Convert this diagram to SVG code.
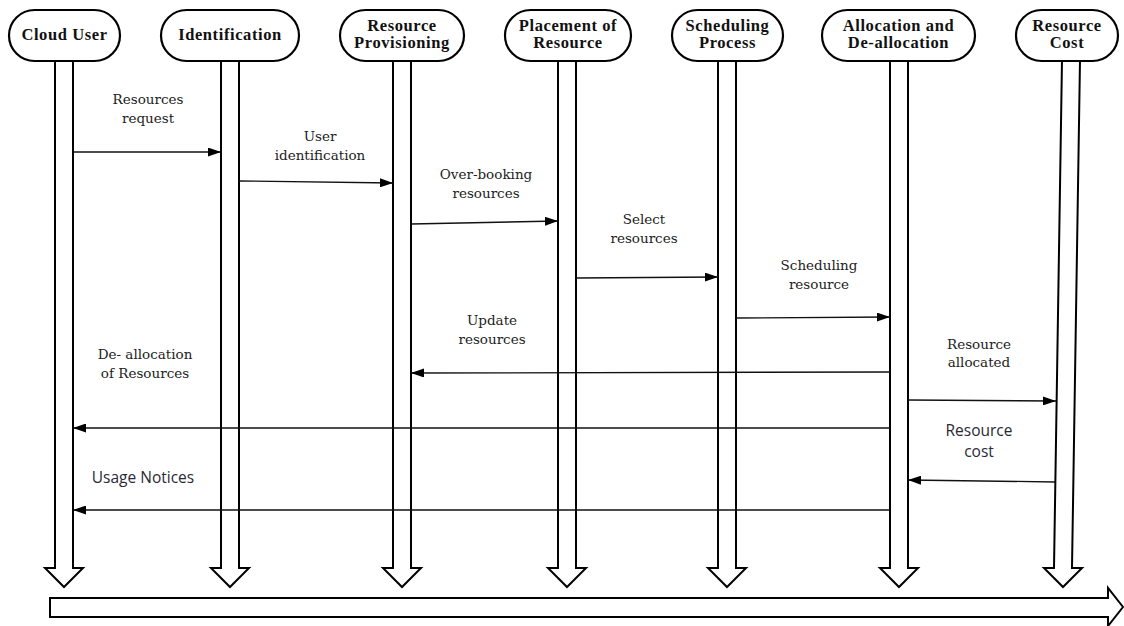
<svg xmlns="http://www.w3.org/2000/svg" width="1124" height="626" viewBox="0 0 1124 626">
<style>
.node rect{fill:#fff;stroke:#000;stroke-width:2.2}
.node text{font-family:"Liberation Serif",serif;font-weight:bold;font-size:16.5px;letter-spacing:0.6px;fill:#111;text-anchor:middle}
.life{fill:#fff;stroke:#000;stroke-width:2}
.msg line{stroke:#111;stroke-width:1.3;marker-end:url(#ah)}
.lbl{font-family:"DejaVu Serif","Liberation Serif",serif;font-size:13.5px;fill:#222;text-anchor:middle}
.lbs{font-family:"Open Sans",sans-serif;font-size:15.5px;fill:#2a2a35;text-anchor:middle}
</style>
<defs>
<marker id="ah" markerUnits="userSpaceOnUse" markerWidth="13" markerHeight="9" refX="13" refY="4.5" orient="auto">
<path d="M0,0 L13,4.5 L0,9 Z" fill="#000"/>
</marker>
</defs>
<rect width="1124" height="626" fill="#fff"/>
<g id="lifelines">
<path class="life" d="M55,60 L55,568 L45,568 L64,587 L83,568 L73,568 L73,60"/>
<path class="life" d="M221,60 L221,568 L211,568 L230,587 L249,568 L239,568 L239,60"/>
<path class="life" d="M393,60 L393,568 L383,568 L402,587 L421,568 L411,568 L411,60"/>
<path class="life" d="M558,60 L558,568 L548,568 L567,587 L586,568 L576,568 L576,60"/>
<path class="life" d="M718,60 L718,568 L708,568 L727,587 L746,568 L736,568 L736,60"/>
<path class="life" d="M890,60 L890,568 L880,568 L899,587 L918,568 L908,568 L908,60"/>
<path class="life" d="M1062,60 L1054,568 L1044,568 L1063,587 L1082,568 L1072,568 L1080,60"/>
</g>
<g id="timeline">
<path class="life" d="M50,598 L1108,598 L1108,588 L1123,607 L1108,626 L1108,617 L50,617 Z"/>
</g>
<g id="n-cloud-user" class="node"><rect x="9" y="10" width="111" height="51" rx="25.5"/><text x="64.5" y="40">Cloud User</text></g>
<g id="n-identification" class="node"><rect x="161" y="10" width="138" height="51" rx="25.5"/><text x="230" y="40">Identification</text></g>
<g id="n-provisioning" class="node"><rect x="340" y="10" width="124" height="51" rx="25.5"/><text x="402" y="31">Resource</text><text x="402" y="48">Provisioning</text></g>
<g id="n-placement" class="node"><rect x="505" y="10" width="126" height="51" rx="25.5"/><text x="568" y="31">Placement of</text><text x="568" y="48">Resource</text></g>
<g id="n-scheduling" class="node"><rect x="672" y="10" width="111" height="51" rx="25.5"/><text x="727.5" y="31">Scheduling</text><text x="727.5" y="48">Process</text></g>
<g id="n-allocation" class="node"><rect x="822" y="10" width="153" height="51" rx="25.5"/><text x="898.5" y="31">Allocation and</text><text x="898.5" y="48">De-allocation</text></g>
<g id="n-cost" class="node"><rect x="1016" y="10" width="102" height="51" rx="25.5"/><text x="1067" y="31">Resource</text><text x="1067" y="48">Cost</text></g>
<g id="connectors" class="msg">
<line x1="73" y1="152" x2="221" y2="152"/>
<line x1="239" y1="181" x2="393" y2="183"/>
<line x1="411" y1="224" x2="558" y2="221"/>
<line x1="576" y1="278" x2="718" y2="277"/>
<line x1="736" y1="318" x2="890" y2="317"/>
<line x1="890" y1="372" x2="411" y2="373"/>
<line x1="890" y1="428" x2="73" y2="428"/>
<line x1="908" y1="400" x2="1056" y2="401"/>
<line x1="1055" y1="482" x2="908" y2="480"/>
<line x1="890" y1="510" x2="73" y2="510"/>
</g>
<g id="labels">
<text class="lbl" x="148" y="104">Resources</text>
<text class="lbl" x="148" y="123">request</text>
<text class="lbl" x="320" y="141">User</text>
<text class="lbl" x="320" y="160">identification</text>
<text class="lbl" x="486" y="179">Over-booking</text>
<text class="lbl" x="486" y="198">resources</text>
<text class="lbl" x="644" y="224">Select</text>
<text class="lbl" x="644" y="243">resources</text>
<text class="lbl" x="819" y="270">Scheduling</text>
<text class="lbl" x="819" y="289">resource</text>
<text class="lbl" x="492" y="325">Update</text>
<text class="lbl" x="492" y="344">resources</text>
<text class="lbl" x="145" y="359">De- allocation</text>
<text class="lbl" x="145" y="378">of Resources</text>
<text class="lbl" x="979" y="349">Resource</text>
<text class="lbl" x="979" y="367">allocated</text>
<text class="lbs" x="979" y="436">Resource</text>
<text class="lbs" x="979" y="457">cost</text>
<text class="lbs" x="143" y="483">Usage Notices</text>
</g>
</svg>
